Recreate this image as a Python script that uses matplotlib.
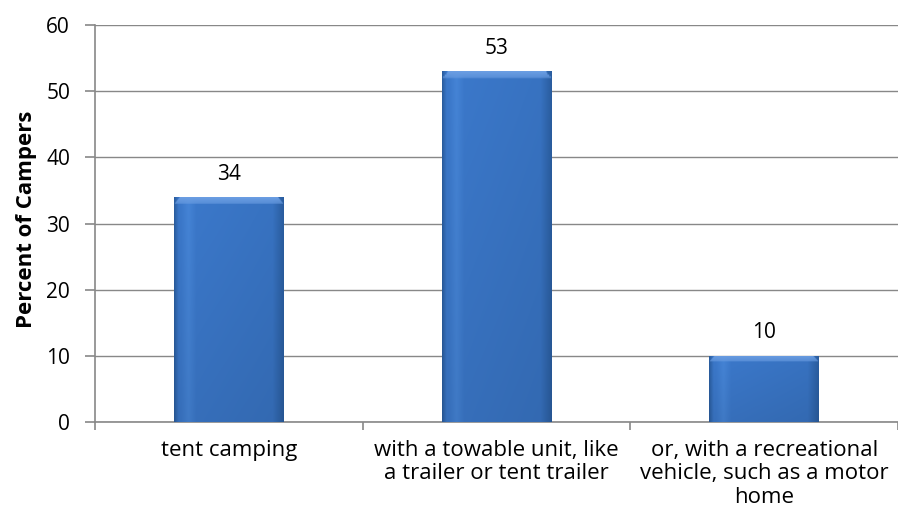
import numpy as np
import matplotlib
matplotlib.use("Agg")
import matplotlib.pyplot as plt
from matplotlib.colors import to_rgb

# data
categories = ["tent camping",
              "with a towable unit, like\na trailer or tent trailer",
              "or, with a recreational\nvehicle, such as a motor\nhome"]
percent = [34, 53, 10]
y_ticks = [0, 10, 20, 30, 40, 50, 60]

plt.rcParams["font.family"] = ["Open Sans", "DejaVu Sans"]
grey = "#888888"
fs = 16
fs_num = 15

fig = plt.figure(figsize=(8.98, 5.30), dpi=100)
ax = fig.add_axes([0.1058, 0.2038, 0.8942, 0.749])

x = np.arange(len(categories))
bar_w = 0.41
bars = ax.bar(x, percent, width=bar_w, color="#3b78c8", zorder=2)

# horizontal shading like the excel bevel look
def shaded(height):
    cols = 120
    rows = 200
    t = np.linspace(0, 1, cols)
    dark = np.array(to_rgb("#2a5d9f"))
    mid = np.array(to_rgb("#3b78ca"))
    light = np.array(to_rgb("#4584d6"))
    prof = np.empty((cols, 3))
    for i, v in enumerate(t):
        if v < 0.04:
            c = dark + (mid - dark) * v / 0.04
        elif v < 0.2:
            c = light + (mid - light) * min(abs(v - 0.13) / 0.07, 1)
        elif v < 0.9:
            c = mid + (dark - mid) * 0.2 * (v - 0.2) / 0.7
        else:
            c = mid + (dark - mid) * (0.2 + 0.8 * (v - 0.9) / 0.1)
        prof[i] = c
    img = np.repeat(prof[None, :, :], rows, axis=0)
    # top bevel, about 7 px tall
    bevel = 0.95 / height
    yy = np.linspace(1, 0, rows)
    top = to_rgb("#6a9de2")
    for r in range(rows):
        if yy[r] > 1 - bevel:
            k = (yy[r] - (1 - bevel)) / bevel
            inset = 0.05 * k
            sel = (t > inset) & (t < 1 - inset)
            img[r, sel] = np.array(top) * (0.6 + 0.4 * k) + img[r, sel] * (0.4 - 0.4 * k)
    # slightly darker toward bottom
    fade = np.linspace(0, 0.08, rows)[:, None, None]
    img = img * (1 - fade)
    return np.clip(img, 0, 1)

for b, v in zip(bars, percent):
    im = ax.imshow(shaded(v), extent=(b.get_x(), b.get_x() + b.get_width(), 0, v),
                   aspect="auto", zorder=3, interpolation="bilinear")
    im.set_clip_path(b)
    ax.annotate(str(v), (b.get_x() + b.get_width() / 2, v), xytext=(0, 9),
                textcoords="offset points", ha="center", va="bottom", fontsize=fs_num)

ax.set_xlim(-0.5, 2.5)
ax.set_ylim(0, 60)
ax.set_yticks(y_ticks)
ax.set_xticks(x)
ax.set_xticklabels(categories, fontsize=fs, linespacing=1.15)
ax.set_xticks([-0.5, 0.5, 1.5, 2.5], minor=True)
ax.tick_params(axis="x", which="major", length=0, pad=13)
ax.tick_params(axis="x", which="minor", length=6, width=1.2, color=grey)
ax.tick_params(axis="y", length=7, width=1.2, color=grey, labelsize=fs_num, pad=11)
ax.set_ylabel("Percent of Campers", fontsize=fs, fontweight="bold")
ax.yaxis.set_label_coords(-0.072, 0.51)

ax.grid(axis="y", color=grey, linewidth=1.0, zorder=0)
ax.set_axisbelow(True)
for s in ["top", "right"]:
    ax.spines[s].set_visible(False)
for s in ["left", "bottom"]:
    ax.spines[s].set_color(grey)
    ax.spines[s].set_linewidth(1.2)

fig.savefig("out.png", dpi=100)
